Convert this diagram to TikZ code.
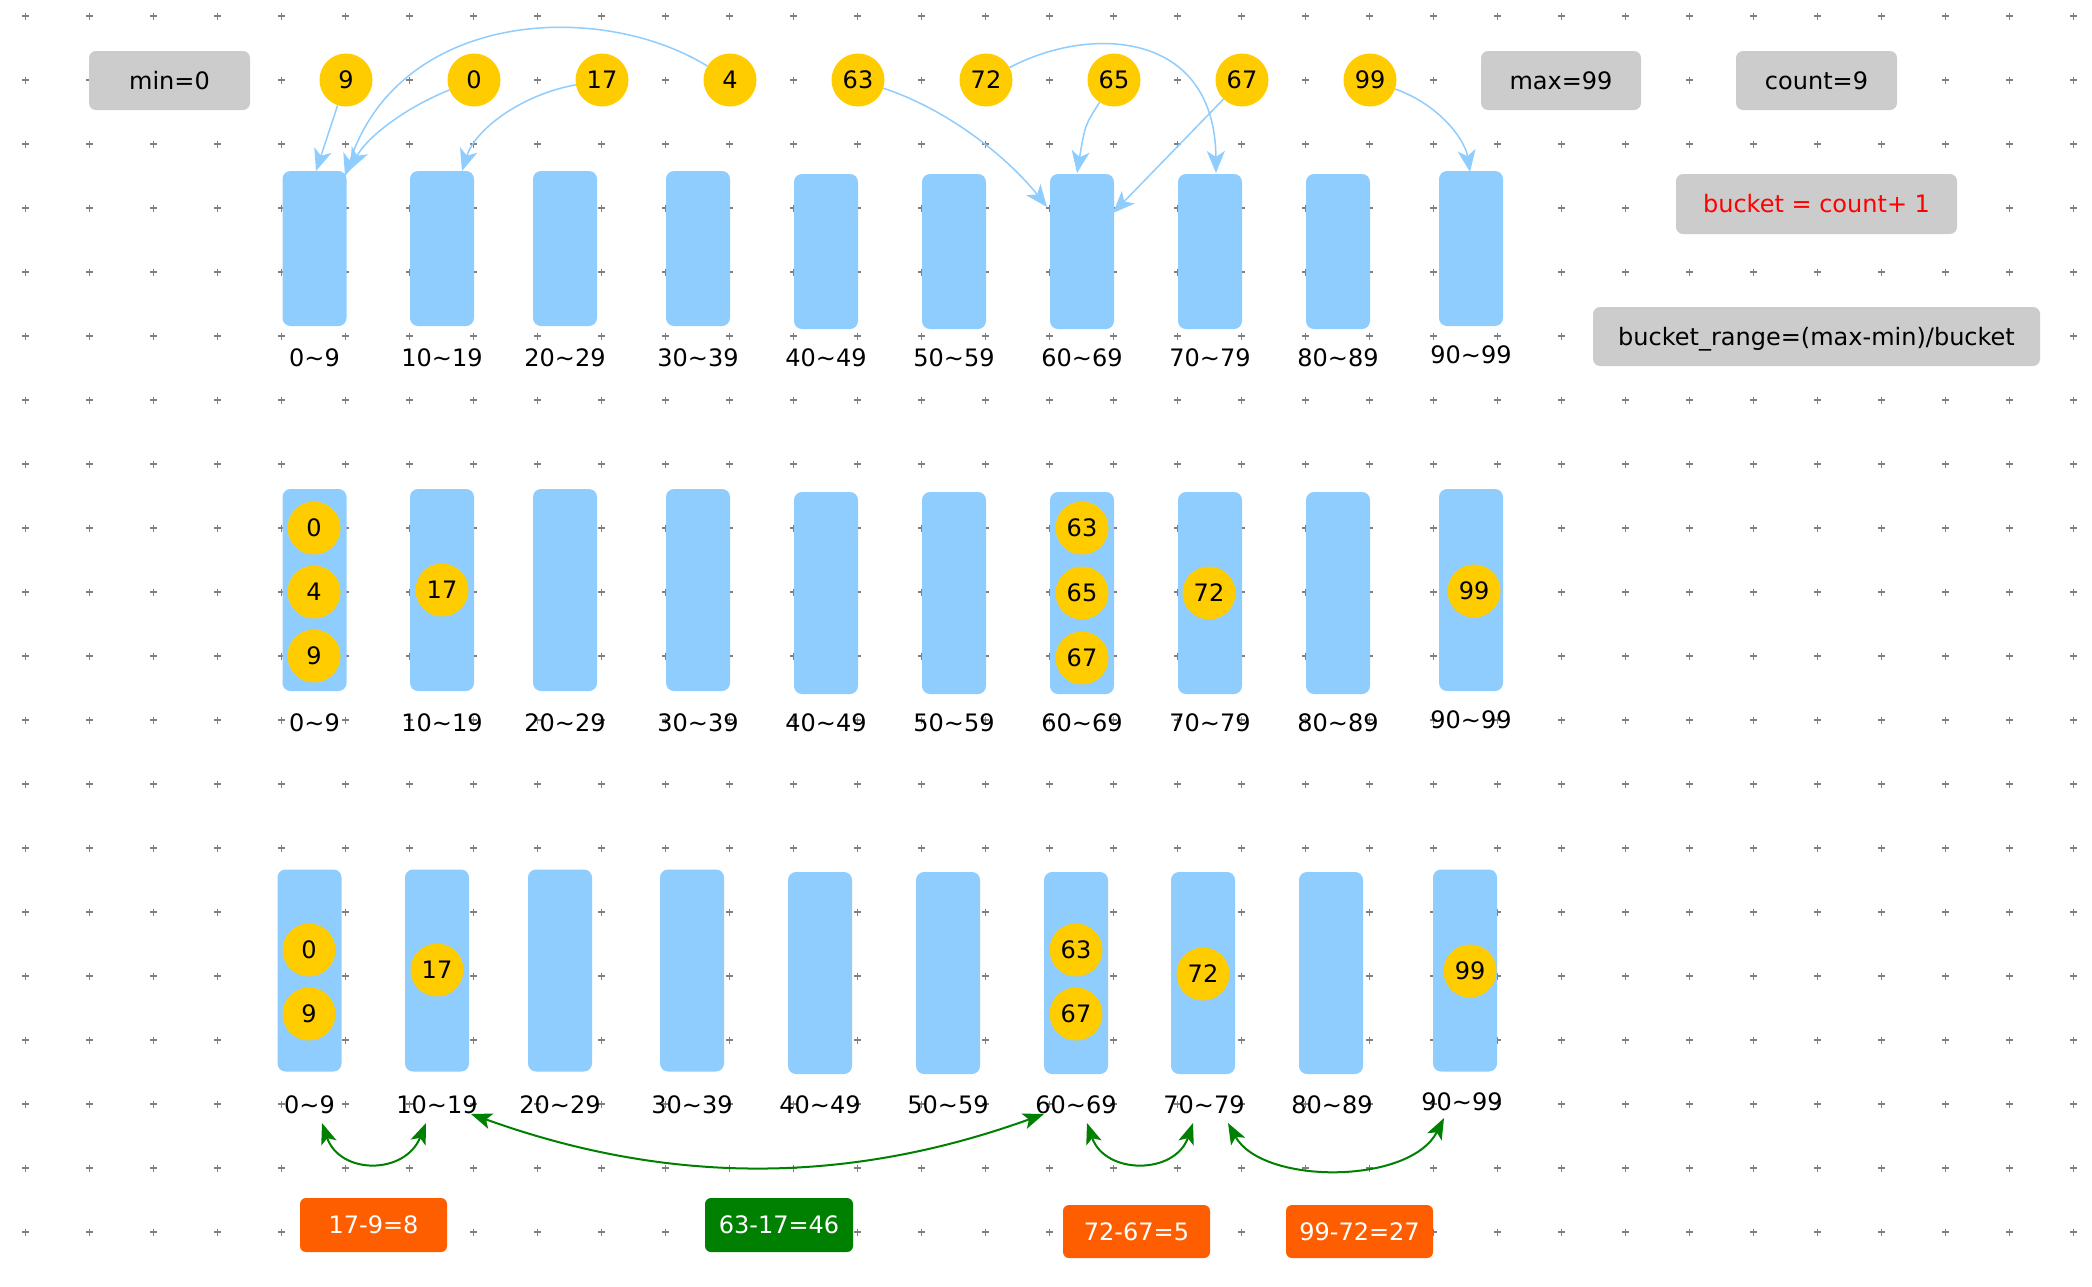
\documentclass[tikz,border=0pt]{standalone}
\usepackage{fontspec}
\setmainfont{DejaVu Sans}
\usetikzlibrary{arrows.meta}
\definecolor{bkt}{HTML}{8FCDFF}
\definecolor{ylw}{HTML}{FFCC00}
\definecolor{gbox}{HTML}{CCCCCC}
\definecolor{org}{HTML}{FF5E00}
\definecolor{grn}{HTML}{008000}
\definecolor{dotc}{HTML}{808080}
\definecolor{arw}{HTML}{8FCDFF}
\newcommand\rg[2]{#1\textasciitilde#2}
\newcommand\fsz{\fontsize{24}{28}\selectfont}
\begin{document}
\begin{tikzpicture}[x=1pt,y=-1pt,
  bucket/.style={rectangle, rounded corners=8pt, fill=bkt, minimum width=64pt, inner sep=0pt},
  bkA/.style={bucket, minimum height=155pt},
  bkB/.style={bucket, minimum height=202pt},
  ball/.style={circle, fill=ylw, minimum size=53pt, inner sep=0pt, font=\fsz, text height=17.5pt, text depth=0pt},
  lbl/.style={inner sep=0pt, font=\fsz, text height=17.5pt, text depth=0pt},
  graybox/.style={rectangle, rounded corners=7pt, fill=gbox, inner sep=0pt, font=\fsz, text height=17.5pt, text depth=0pt},
  resbox/.style={rectangle, rounded corners=6pt, inner sep=0pt, text=white, font=\fsz, minimum width=147pt, minimum height=54pt, text height=17.5pt, text depth=0pt},
  barrow/.style={draw=arw, line width=1.5pt, -{Stealth[length=22pt,width=18pt,inset=6pt]}},
  garrow/.style={draw=grn, line width=2pt, {Stealth[length=21pt,width=16pt,inset=5pt]}-{Stealth[length=21pt,width=16pt,inset=5pt]}},
  gdot/.style={draw=dotc, line width=1.5pt}
]
\useasboundingbox (0,0) rectangle (2092,1286);
\fill[white] (0,0) rectangle (2092,1286);

% dot grid
\foreach \i in {0,...,32}{
  \foreach \j in {0,...,19}{
    \draw[gdot] ({25.5+64*\i-3.5},{16+64*\j}) -- ++(7,0) ({25.5+64*\i},{16+64*\j-3.5}) -- ++(0,7);
  }
}

% info boxes
\node[graybox, minimum width=161pt, minimum height=59pt] (minb) at (169.5,80.5) {min=0};
\node[graybox, minimum width=160pt, minimum height=59pt] (maxb) at (1561,80.5) {max=99};
\node[graybox, minimum width=161pt, minimum height=59pt] (cntb) at (1816.5,80.5) {count=9};
\node[graybox, minimum width=281pt, minimum height=60pt, text=red] (bktb) at (1816.5,204) {bucket = count+ 1};
\node[graybox, minimum width=447pt, minimum height=59pt] (rngb) at (1816.5,336.5) {bucket\_range=(max-min)/bucket};

% row 1 buckets
\foreach \x/\y [count=\i from 0] in {314.5/248.5, 442/248.5, 565/248.5, 698/248.5, 826/251.5, 954/251.5, 1082/251.5, 1210/251.5, 1338/251.5, 1471/248.5}
  \node[bkA] (a\i) at (\x,\y) {};
% row 1 labels
\foreach \x/\y/\t in {314.5/358/\rg{0}{9}, 442/358/\rg{10}{19}, 565/358/\rg{20}{29}, 698/358/\rg{30}{39}, 826/358/\rg{40}{49}, 954/358/\rg{50}{59}, 1082/358/\rg{60}{69}, 1210/358/\rg{70}{79}, 1338/358/\rg{80}{89}, 1471/355/\rg{90}{99}}
  \node[lbl] at (\x,\y) {\t};

% row 1 balls
\node[ball] (t9) at (346,80) {9};
\node[ball] (t0) at (474,80) {0};
\node[ball] (t17) at (602,80) {17};
\node[ball] (t4) at (730,80) {4};
\node[ball] (t63) at (858,80) {63};
\node[ball] (t72) at (986,80) {72};
\node[ball] (t65) at (1114,80) {65};
\node[ball] (t67) at (1242,80) {67};
\node[ball] (t99) at (1370,80) {99};

% arrow end points
\coordinate (e9) at (316,171);
\coordinate (e0) at (350,170);
\coordinate (e4) at (345,176);
\coordinate (e17) at (462,171);
\coordinate (e63) at (1047,207);
\coordinate (e72) at (1216,173);
\coordinate (e65) at (1077,173);
\coordinate (e67) at (1113,213);
\coordinate (e99) at (1470,172);

\draw[barrow] (t9) -- (e9);
\draw[barrow] (t0) .. controls (400,110) and (365,140) .. (e0);
\draw[barrow] (t4) .. controls (600,0) and (400,10) .. (e4);
\draw[barrow] (t17) .. controls (520,95) and (475,130) .. (e17);
\draw[barrow] (t63) .. controls (950,110) and (1010,160) .. (e63);
\draw[barrow] (t72) .. controls (1090,25) and (1215,30) .. (e72);
\draw[barrow] (t65) .. controls (1085,125) .. (e65);
\draw[barrow] (t67) -- (e67);
\draw[barrow] (t99) .. controls (1440,105) and (1465,140) .. (e99);

% row 2 buckets
\foreach \x/\y [count=\i from 0] in {314.5/590, 442/590, 565/590, 698/590, 826/593, 954/593, 1082/593, 1210/593, 1338/593, 1471/590}
  \node[bkB] (m\i) at (\x,\y) {};
\foreach \x/\y/\t in {314.5/723/\rg{0}{9}, 442/723/\rg{10}{19}, 565/723/\rg{20}{29}, 698/723/\rg{30}{39}, 826/723/\rg{40}{49}, 954/723/\rg{50}{59}, 1082/723/\rg{60}{69}, 1210/723/\rg{70}{79}, 1338/723/\rg{80}{89}, 1471/720/\rg{90}{99}}
  \node[lbl] at (\x,\y) {\t};
\node[ball] (m0a) at (314,528) {0};
\node[ball] (m0b) at (314,592) {4};
\node[ball] (m0c) at (314,656) {9};
\node[ball] (m1a) at (442,590) {17};
\node[ball] (m6a) at (1082,528) {63};
\node[ball] (m6b) at (1082,593) {65};
\node[ball] (m6c) at (1082,658) {67};
\node[ball] (m7a) at (1209,593) {72};
\node[ball] (m9a) at (1474,591) {99};

% row 3 buckets
\foreach \x/\y [count=\i from 0] in {309.5/970.5, 437/970.5, 560/970.5, 692/970.5, 820/973, 948/973, 1076/973, 1203/973, 1331/973, 1465/970.5}
  \node[bkB] (n\i) at (\x,\y) {};
\node[lbl] (l0) at (309.5,1105) {\rg{0}{9}};
\node[lbl] (l1) at (437,1105) {\rg{10}{19}};
\node[lbl] (l2) at (560,1105) {\rg{20}{29}};
\node[lbl] (l3) at (692,1105) {\rg{30}{39}};
\node[lbl] (l4) at (820,1105) {\rg{40}{49}};
\node[lbl] (l5) at (948,1105) {\rg{50}{59}};
\node[lbl] (l6) at (1076,1105) {\rg{60}{69}};
\node[lbl] (l7) at (1204,1105) {\rg{70}{79}};
\node[lbl] (l8) at (1332,1105) {\rg{80}{89}};
\node[lbl] (l9) at (1462,1102) {\rg{90}{99}};
\node[ball] (n0a) at (309,950) {0};
\node[ball] (n0b) at (309,1014) {9};
\node[ball] (n1a) at (437,970) {17};
\node[ball] (n6a) at (1076,950) {63};
\node[ball] (n6b) at (1076,1014) {67};
\node[ball] (n7a) at (1203,974) {72};
\node[ball] (n9a) at (1470,971) {99};

% green gap arrows
\coordinate (g1a) at (322,1123);
\coordinate (g1b) at (426,1123);
\coordinate (g2a) at (471,1114);
\coordinate (g2b) at (1044,1114);
\coordinate (g3a) at (1087,1123);
\coordinate (g3b) at (1193,1123);
\coordinate (g4a) at (1228,1123);
\coordinate (g4b) at (1444,1118);
\draw[garrow] (g1a) .. controls (340,1175) and (405,1175) .. (g1b);
\draw[garrow] (g2a) .. controls (668,1185) and (847,1185) .. (g2b);
\draw[garrow] (g3a) .. controls (1105,1175) and (1175,1175) .. (g3b);
\draw[garrow] (g4a) .. controls (1262,1185) and (1410,1185) .. (g4b);

% result boxes
\node[resbox, fill=org] (r1) at (373.5,1225) {17-9=8};
\node[resbox, fill=grn, minimum width=148pt] (r2) at (779,1225) {63-17=46};
\node[resbox, fill=org, minimum height=53pt] (r3) at (1136.5,1231.5) {72-67=5};
\node[resbox, fill=org, minimum height=53pt] (r4) at (1359.5,1231.5) {99-72=27};
\end{tikzpicture}
\end{document}
